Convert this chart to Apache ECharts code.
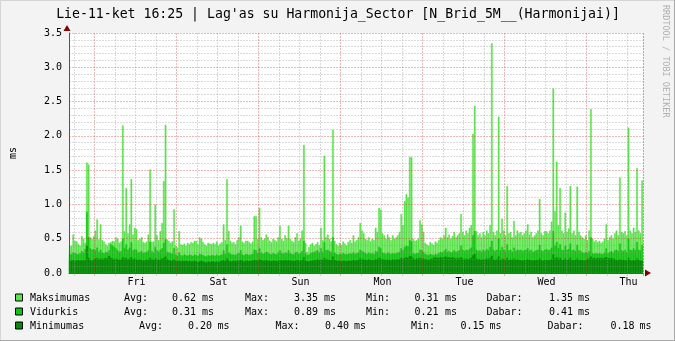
<!DOCTYPE html>
<html><head><meta charset="utf-8">
<script src="https://cdn.jsdelivr.net/npm/echarts@6/dist/echarts.min.js"></script>
<style>html,body{margin:0;padding:0;background:#f3f3f3}#c{width:675px;height:341px}</style>
</head><body><div id="c"></div>
<script>
// ---- data ----
const dayNames = ['Thu','Fri','Sat','Sun','Mon','Tue','Wed'];
const startMinutes = 16*60+30, stepMinutes = 30, slotCount = 336;
const categories = [];
for (let i = 0; i < slotCount; i++) {
  const m = startMinutes + i*stepMinutes, hm = m % 1440;
  categories.push(dayNames[Math.floor(m/1440)%7] + ' ' + String(Math.floor(hm/60)).padStart(2,'0') + ':' + String(hm%60).padStart(2,'0'));
}
const yTicks = [0,0.5,1,1.5,2,2.5,3,3.5];

const maxData = [
0.39,0.40,0.56,0.47,0.46,0.42,0.40,0.54,0.50,0.44,1.61,1.58,
0.52,0.50,0.54,0.62,0.78,0.49,0.71,0.48,0.46,0.42,0.40,0.44,
0.45,0.47,0.46,0.52,0.50,0.44,0.46,2.15,0.61,1.24,0.58,0.71,
1.37,0.56,0.66,0.64,0.48,0.50,0.52,0.45,0.44,0.46,0.56,1.51,
0.45,0.46,1.00,0.55,0.48,0.61,0.73,1.34,2.16,0.49,0.47,0.44,
0.46,0.93,0.40,0.37,0.61,0.42,0.41,0.43,0.40,0.44,0.42,0.45,
0.44,0.47,0.47,0.42,0.52,0.50,0.45,0.42,0.40,0.44,0.43,0.42,
0.44,0.42,0.46,0.40,0.43,0.45,0.71,0.48,1.37,0.61,0.47,0.44,
0.45,0.42,0.48,0.52,0.69,0.46,0.44,0.47,0.47,0.45,0.43,0.46,
0.83,0.83,0.50,0.95,0.52,0.48,0.50,0.56,0.52,0.47,0.45,0.50,
0.48,0.46,0.52,0.69,0.50,0.47,0.55,0.51,0.69,0.50,0.47,0.45,
0.52,0.58,0.47,0.50,0.62,1.87,0.44,0.31,0.38,0.42,0.44,0.40,
0.42,0.45,0.40,0.66,0.48,1.71,0.52,0.56,0.50,0.46,2.09,0.47,
0.42,0.40,0.44,0.41,0.46,0.43,0.40,0.45,0.48,0.44,0.55,0.46,
0.48,0.52,0.73,0.62,0.58,0.50,0.48,0.52,0.46,0.50,0.48,0.66,
0.60,0.95,0.92,0.58,0.55,0.50,0.56,0.52,0.48,0.55,0.50,0.52,
0.55,0.60,0.86,0.70,1.05,1.15,1.10,1.69,1.69,0.50,0.47,0.48,
0.50,0.77,0.71,0.60,0.44,0.42,0.40,0.45,0.43,0.41,0.46,0.44,
0.48,0.52,0.50,0.55,0.66,0.52,0.56,0.50,0.54,0.60,0.52,0.55,
0.58,0.86,0.60,0.55,0.62,0.58,0.66,0.70,2.03,2.44,0.61,0.55,
0.58,0.52,0.60,0.55,0.62,0.58,0.70,3.35,0.60,0.55,0.62,2.28,
0.58,0.79,0.62,0.55,1.27,0.58,0.60,0.52,0.76,0.55,0.62,0.58,
0.60,0.55,0.58,0.62,0.71,0.56,0.60,0.52,0.55,0.58,0.62,1.08,
0.58,0.55,0.61,0.61,0.58,0.62,0.75,2.69,0.90,1.62,0.70,1.24,
0.62,0.58,0.88,0.60,0.65,1.27,0.58,0.62,0.55,1.26,0.60,0.55,
0.52,0.50,0.55,0.48,0.62,2.39,0.50,0.46,0.48,0.45,0.47,0.44,
0.46,0.50,0.71,0.48,0.52,0.55,0.50,0.58,0.62,0.55,1.39,0.60,
0.58,0.61,0.55,2.12,0.62,0.58,0.66,0.60,1.53,0.62,0.58,1.35];

const avgData = [
0.28,0.27,0.30,0.29,0.28,0.27,0.29,0.32,0.30,0.35,0.89,0.52,
0.36,0.34,0.35,0.33,0.37,0.31,0.34,0.30,0.29,0.31,0.30,0.33,
0.42,0.40,0.38,0.36,0.33,0.31,0.32,0.50,0.36,0.42,0.34,0.37,
0.45,0.33,0.35,0.34,0.30,0.31,0.32,0.29,0.30,0.31,0.33,0.46,
0.32,0.30,0.38,0.33,0.31,0.34,0.36,0.44,0.49,0.31,0.30,0.29,
0.28,0.36,0.27,0.25,0.30,0.26,0.25,0.27,0.26,0.25,0.27,0.26,
0.25,0.27,0.26,0.25,0.28,0.27,0.26,0.25,0.24,0.26,0.25,0.26,
0.26,0.25,0.27,0.25,0.26,0.27,0.33,0.28,0.42,0.30,0.28,0.27,
0.27,0.26,0.28,0.29,0.33,0.27,0.26,0.28,0.27,0.26,0.27,0.28,
0.34,0.33,0.29,0.36,0.30,0.28,0.29,0.31,0.30,0.28,0.27,0.29,
0.28,0.27,0.30,0.33,0.29,0.28,0.30,0.29,0.33,0.29,0.28,0.27,
0.30,0.31,0.28,0.29,0.32,0.47,0.29,0.26,0.27,0.29,0.30,0.31,
0.32,0.33,0.30,0.36,0.31,0.45,0.33,0.34,0.32,0.31,0.52,0.30,
0.28,0.27,0.28,0.27,0.29,0.28,0.27,0.28,0.29,0.28,0.30,0.28,
0.29,0.30,0.34,0.32,0.31,0.29,0.28,0.30,0.28,0.29,0.28,0.32,
0.31,0.38,0.36,0.30,0.29,0.28,0.30,0.29,0.28,0.29,0.28,0.29,
0.30,0.31,0.36,0.33,0.38,0.40,0.39,0.48,0.46,0.29,0.28,0.29,
0.29,0.34,0.33,0.31,0.28,0.27,0.26,0.28,0.27,0.26,0.28,0.27,
0.29,0.31,0.30,0.32,0.35,0.31,0.32,0.30,0.31,0.33,0.31,0.32,
0.33,0.40,0.34,0.32,0.34,0.33,0.35,0.37,0.55,0.61,0.34,0.32,
0.33,0.31,0.34,0.32,0.35,0.33,0.38,0.47,0.34,0.32,0.34,0.50,
0.33,0.38,0.34,0.32,0.42,0.33,0.34,0.31,0.37,0.32,0.34,0.33,
0.34,0.32,0.33,0.34,0.36,0.32,0.34,0.31,0.32,0.33,0.34,0.41,
0.33,0.32,0.34,0.35,0.33,0.34,0.37,0.61,0.40,0.45,0.36,0.42,
0.34,0.33,0.40,0.34,0.35,0.43,0.33,0.34,0.32,0.41,0.33,0.32,
0.30,0.29,0.31,0.29,0.32,0.52,0.29,0.28,0.29,0.28,0.29,0.28,
0.28,0.30,0.36,0.29,0.31,0.32,0.30,0.33,0.34,0.32,0.43,0.33,
0.32,0.34,0.31,0.50,0.34,0.33,0.36,0.33,0.45,0.34,0.33,0.41];

const minData = [
0.18,0.18,0.19,0.18,0.18,0.19,0.18,0.19,0.18,0.19,0.40,0.22,
0.19,0.18,0.20,0.21,0.22,0.20,0.21,0.20,0.21,0.22,0.21,0.25,
0.22,0.21,0.20,0.21,0.20,0.19,0.20,0.23,0.21,0.22,0.20,0.21,
0.23,0.20,0.21,0.20,0.19,0.20,0.19,0.18,0.19,0.20,0.19,0.22,
0.20,0.19,0.21,0.20,0.19,0.20,0.21,0.22,0.24,0.20,0.19,0.18,
0.18,0.20,0.18,0.17,0.18,0.17,0.18,0.17,0.18,0.17,0.18,0.17,
0.17,0.18,0.17,0.16,0.17,0.18,0.17,0.16,0.15,0.17,0.16,0.17,
0.17,0.16,0.17,0.16,0.17,0.18,0.19,0.17,0.21,0.18,0.17,0.17,
0.18,0.17,0.18,0.18,0.19,0.18,0.17,0.18,0.18,0.17,0.18,0.18,
0.19,0.19,0.18,0.20,0.19,0.18,0.18,0.19,0.18,0.18,0.17,0.18,
0.18,0.17,0.18,0.19,0.18,0.18,0.19,0.18,0.19,0.18,0.18,0.17,
0.18,0.19,0.18,0.18,0.19,0.23,0.18,0.17,0.17,0.18,0.18,0.19,
0.19,0.20,0.19,0.20,0.19,0.22,0.20,0.20,0.19,0.19,0.24,0.19,
0.18,0.18,0.18,0.17,0.18,0.18,0.17,0.18,0.18,0.18,0.19,0.18,
0.19,0.19,0.21,0.20,0.20,0.19,0.19,0.20,0.19,0.19,0.19,0.20,
0.20,0.22,0.21,0.20,0.20,0.19,0.20,0.19,0.19,0.20,0.19,0.20,
0.20,0.20,0.22,0.21,0.22,0.23,0.22,0.25,0.24,0.21,0.20,0.21,
0.21,0.22,0.21,0.21,0.20,0.20,0.19,0.20,0.21,0.22,0.23,0.22,
0.22,0.23,0.22,0.23,0.24,0.22,0.23,0.22,0.23,0.22,0.21,0.22,
0.21,0.23,0.21,0.20,0.21,0.20,0.21,0.22,0.26,0.28,0.21,0.20,
0.20,0.19,0.20,0.20,0.21,0.20,0.22,0.25,0.20,0.19,0.20,0.24,
0.19,0.21,0.20,0.19,0.22,0.19,0.20,0.19,0.21,0.19,0.20,0.19,
0.19,0.18,0.19,0.19,0.20,0.19,0.19,0.18,0.19,0.19,0.19,0.21,
0.19,0.18,0.19,0.19,0.19,0.19,0.20,0.27,0.21,0.23,0.20,0.22,
0.19,0.19,0.21,0.19,0.20,0.22,0.19,0.19,0.19,0.21,0.19,0.19,
0.19,0.18,0.19,0.20,0.21,0.24,0.21,0.22,0.21,0.22,0.21,0.22,
0.21,0.22,0.23,0.22,0.21,0.22,0.21,0.20,0.19,0.19,0.20,0.19,
0.19,0.19,0.18,0.22,0.19,0.18,0.19,0.18,0.21,0.19,0.18,0.18];

const legendNames = ['Maksimumas','Vidurkis','Minimumas'];
const statAvg = ['0.62','0.31','0.20'];
const statMax = ['3.35','0.89','0.40'];
const statMin = ['0.31','0.21','0.15'];
const statNow = ['1.35','0.41','0.18'];
const titleText = "Lie-11-ket 16:25 | Lag'as su Harmonija_Sector [N_Brid_5M__(Harmonijai)]";

// ---- style ----
const colors = ['#5ce34c','#16c216','#0a870a'];
const MONO = '"DejaVu Sans Mono", monospace';
const gridGrey = 'rgba(150,150,150,0.34)';
const gridRed = 'rgba(210,40,40,0.32)';
const dash = [2,1];

function hmOf(v){ return String(v).split(' ')[1]; }
const isMajor = (i,v) => hmOf(v) === '00:00';
const isMinor = (i,v) => ['06:00','12:00','18:00'].includes(hmOf(v));
const isLabel = (i,v) => hmOf(v) === '12:00';

// legend layout (x of each token), two layouts
const layA = [30,124,172,202,245,294,324,366,414.5,445,486.5,549,578];
const layB = [30,139,188,217.5,275.5,325,354,411,460.5,489.5,547.5,610.5,639.5];
const rowY = [298,312,326];

const graphics = [];
graphics.push({type:'rect', shape:{x:0,y:0,width:675,height:1}, style:{fill:'#d6d6d6'}, silent:true});
graphics.push({type:'rect', shape:{x:0,y:0,width:1,height:341}, style:{fill:'#d6d6d6'}, silent:true});
graphics.push({type:'rect', shape:{x:0,y:340,width:675,height:1}, style:{fill:'#a8a8a8'}, silent:true});
graphics.push({type:'rect', shape:{x:674,y:0,width:1,height:341}, style:{fill:'#a8a8a8'}, silent:true});
graphics.push({type:'text', x:338, y:14.5, style:{text:titleText, font:'13.2px '+MONO, fill:'#000', textAlign:'center', textVerticalAlign:'middle'}, silent:true});
graphics.push({type:'text', x:665, y:5, rotation:-Math.PI/2, style:{text:'RRDTOOL / TOBI OETIKER', font:'8.5px '+MONO, fill:'#b0b0b0', textAlign:'left', textVerticalAlign:'middle'}, silent:true});
graphics.push({type:'polygon', shape:{points:[[63.5,31],[70.5,31],[67,25]]}, style:{fill:'#800000'}, silent:true, z:100});
graphics.push({type:'polygon', shape:{points:[[645,269.5],[645,276.5],[651,273]]}, style:{fill:'#800000'}, silent:true, z:100});
for (let r = 0; r < 3; r++) {
  const lay = r < 2 ? layA : layB, y = rowY[r];
  graphics.push({type:'rect', shape:{x:15.5,y:y-4,width:7,height:7}, style:{fill:colors[r], stroke:'#000', lineWidth:1}, silent:true});
  const toks = [legendNames[r],'Avg:',statAvg[r],'ms','Max:',statMax[r],'ms','Min:',statMin[r],'ms','Dabar:',statNow[r],'ms'];
  toks.forEach((t,k) => graphics.push({type:'text', x:lay[k], y:y, style:{text:t, font:'10px '+MONO, fill:'#000', textAlign:'left', textVerticalAlign:'middle'}, silent:true}));
}

const chart = echarts.init(document.getElementById('c'), null, {renderer:'canvas'});
const barCommon = {type:'bar', barGap:'-100%', barCategoryGap:'0%', silent:true, animation:false, xAxisIndex:0, yAxisIndex:1};
chart.setOption({
  backgroundColor:'#f3f3f3',
  animation:false,
  grid:{left:67, right:32, top:33, bottom:68, show:true, backgroundColor:'#ffffff', borderWidth:0},
  xAxis:[
    {type:'category', data:categories, boundaryGap:true, z:5,
     axisLine:{show:true, lineStyle:{color:'#555', width:1}},
     axisTick:{show:true, interval:isMinor, length:3, inside:false, lineStyle:{color:gridGrey}},
     axisLabel:{show:true, interval:isLabel, formatter:v=>v.split(' ')[0], fontFamily:MONO, fontSize:10, color:'#000', margin:4},
     splitLine:{show:true, interval:isMinor, lineStyle:{color:gridGrey, type:dash, width:1}}},
    {type:'category', data:categories, boundaryGap:true, z:6, position:'bottom',
     axisLine:{show:false},
     axisTick:{show:true, interval:isMajor, length:3, lineStyle:{color:gridRed}},
     axisLabel:{show:false},
     splitLine:{show:true, interval:isMajor, lineStyle:{color:gridRed, type:dash, width:1}}}
  ],
  yAxis:[
    {type:'value', min:0, max:3.5, interval:0.1, z:5, position:'left',
     axisLine:{show:false}, axisTick:{show:false}, axisLabel:{show:false},
     splitLine:{show:true, lineStyle:{color:['rgba(0,0,0,0)',gridGrey,gridGrey,gridGrey,gridGrey], type:dash, width:1}}},
    {type:'value', min:yTicks[0], max:yTicks[yTicks.length-1], interval:0.5, z:6, position:'left',
     name:'ms', nameLocation:'middle', nameGap:51, nameRotate:90,
     nameTextStyle:{fontFamily:MONO, fontSize:10, color:'#000'},
     axisLine:{show:true, lineStyle:{color:'#555', width:1}},
     axisTick:{show:false},
     axisLabel:{show:true, formatter:v=>v.toFixed(1), fontFamily:MONO, fontSize:10, color:'#000', margin:7},
     splitLine:{show:true, lineStyle:{color:gridRed, type:dash, width:1}}}
  ],
  series:[
    Object.assign({name:legendNames[0], data:maxData, itemStyle:{color:colors[0], borderColor:colors[0], borderWidth:0.4}}, barCommon),
    Object.assign({name:legendNames[1], data:avgData, itemStyle:{color:colors[1], borderColor:colors[1], borderWidth:0.4}}, barCommon),
    Object.assign({name:legendNames[2], data:minData, itemStyle:{color:colors[2], borderColor:colors[2], borderWidth:0.4}}, barCommon)
  ],
  graphic: graphics
});
</script></body></html>
